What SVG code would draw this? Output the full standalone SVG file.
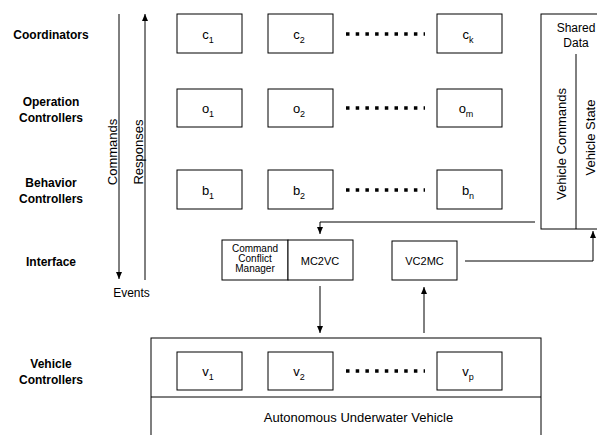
<svg xmlns="http://www.w3.org/2000/svg" width="597" height="435" viewBox="0 0 597 435">
<defs>
<marker id="ah" markerUnits="userSpaceOnUse" markerWidth="8" markerHeight="8" refX="7" refY="3" orient="auto">
<path d="M0,0 L7,3 L0,6 z" fill="#000"/>
</marker>
<style>
text{font-family:"Liberation Sans",Arial,sans-serif;fill:#000}
.lvl{font-size:12px;font-weight:bold;text-anchor:middle}
.box{fill:#fff;stroke:#000;stroke-width:1}
.lbl{font-size:13px;text-anchor:middle}
.sub{font-size:9px}
.dots{stroke:#000;stroke-width:3.5;stroke-dasharray:3.5 6.2;fill:none}
.conn{stroke:#000;stroke-width:1;fill:none}
.arr{marker-end:url(#ah)}
.t13{font-size:13px}
.t12{font-size:12px;text-anchor:middle}
.t11{font-size:11px;text-anchor:middle}
.t10{font-size:10px;text-anchor:middle}
</style>
</defs>
<rect width="597" height="435" fill="#fff"/>

<g id="level-labels">
<text class="lvl" x="51" y="39">Coordinators</text>
<text class="lvl" x="51" y="106">Operation</text>
<text class="lvl" x="51" y="122">Controllers</text>
<text class="lvl" x="51" y="187">Behavior</text>
<text class="lvl" x="51" y="203">Controllers</text>
<text class="lvl" x="51" y="266">Interface</text>
<text class="lvl" x="51" y="368">Vehicle</text>
<text class="lvl" x="51" y="384">Controllers</text>
</g>

<g id="vehicle">
<rect class="box" x="151" y="338" width="390" height="110"/>
<line class="conn" x1="151" y1="397" x2="541" y2="397"/>
<text class="t13" x="358.5" y="422" text-anchor="middle">Autonomous Underwater Vehicle</text>
</g>

<g id="shared-data">
<rect class="box" x="541" y="14" width="70" height="215"/>
<line class="conn" x1="576" y1="54" x2="576" y2="229"/>
<text class="t12" x="576" y="31.5">Shared</text>
<text class="t12" x="576" y="47">Data</text>
<text class="t13" transform="translate(566,144) rotate(-90)" text-anchor="middle">Vehicle Commands</text>
<text class="t13" transform="translate(595,137.5) rotate(-90)" text-anchor="middle">Vehicle State</text>
</g>

<g id="c1"><rect class="box" x="177" y="14" width="65" height="39"/><text class="lbl" x="208" y="39">c<tspan class="sub" dy="4">1</tspan></text></g>
<g id="c2"><rect class="box" x="268" y="14" width="65" height="39"/><text class="lbl" x="299" y="39">c<tspan class="sub" dy="4">2</tspan></text></g>
<g id="ck"><rect class="box" x="437" y="14" width="65" height="39"/><text class="lbl" x="468" y="39">c<tspan class="sub" dy="4">k</tspan></text></g>

<g id="o1"><rect class="box" x="177" y="89" width="65" height="38"/><text class="lbl" x="208" y="113">o<tspan class="sub" dy="4">1</tspan></text></g>
<g id="o2"><rect class="box" x="268" y="89" width="65" height="38"/><text class="lbl" x="299" y="113">o<tspan class="sub" dy="4">2</tspan></text></g>
<g id="om"><rect class="box" x="437" y="89" width="65" height="38"/><text class="lbl" x="466" y="113">o<tspan class="sub" dy="4">m</tspan></text></g>

<g id="b1"><rect class="box" x="177" y="170" width="65" height="39"/><text class="lbl" x="208" y="195">b<tspan class="sub" dy="4">1</tspan></text></g>
<g id="b2"><rect class="box" x="268" y="170" width="65" height="39"/><text class="lbl" x="299" y="195">b<tspan class="sub" dy="4">2</tspan></text></g>
<g id="bn"><rect class="box" x="437" y="170" width="65" height="39"/><text class="lbl" x="468" y="195">b<tspan class="sub" dy="4">n</tspan></text></g>

<g id="v1"><rect class="box" x="177" y="352" width="65" height="38"/><text class="lbl" x="208" y="376">v<tspan class="sub" dy="4">1</tspan></text></g>
<g id="v2"><rect class="box" x="268" y="352" width="65" height="38"/><text class="lbl" x="299" y="376">v<tspan class="sub" dy="4">2</tspan></text></g>
<g id="vp"><rect class="box" x="437" y="352" width="65" height="38"/><text class="lbl" x="468" y="376">v<tspan class="sub" dy="4">p</tspan></text></g>

<g id="command-conflict-manager">
<rect class="box" x="222" y="240" width="66" height="40"/>
<text class="t10" x="255" y="252">Command</text>
<text class="t10" x="255" y="262">Conflict</text>
<text class="t10" x="255" y="272">Manager</text>
</g>
<g id="mc2vc"><rect class="box" x="288" y="240" width="65" height="40"/><text class="t11" x="320" y="264.5">MC2VC</text></g>
<g id="vc2mc"><rect class="box" x="392" y="241" width="65" height="39"/><text class="t11" x="424.5" y="264.5">VC2MC</text></g>

<g id="ellipses">
<line class="dots" x1="346" y1="34" x2="425" y2="34"/>
<line class="dots" x1="346" y1="108" x2="425" y2="108"/>
<line class="dots" x1="346" y1="190" x2="425" y2="190"/>
<line class="dots" x1="346" y1="371" x2="425" y2="371"/>
</g>

<g id="connectors">
<line class="conn arr" x1="119" y1="14" x2="119" y2="279"/>
<line class="conn arr" x1="145" y1="280" x2="145" y2="14"/>
<text class="t13" transform="translate(117,152) rotate(-90)" text-anchor="middle">Commands</text>
<text class="t13" transform="translate(143,152) rotate(-90)" text-anchor="middle">Responses</text>
<text class="t12" x="131.5" y="297">Events</text>
<path class="conn arr" d="M535,222 H320 V234"/>
<path class="conn arr" d="M320,286 V333"/>
<path class="conn arr" d="M424,333 V287"/>
<path class="conn arr" d="M465,261 H593 V231"/>
</g>
</svg>
